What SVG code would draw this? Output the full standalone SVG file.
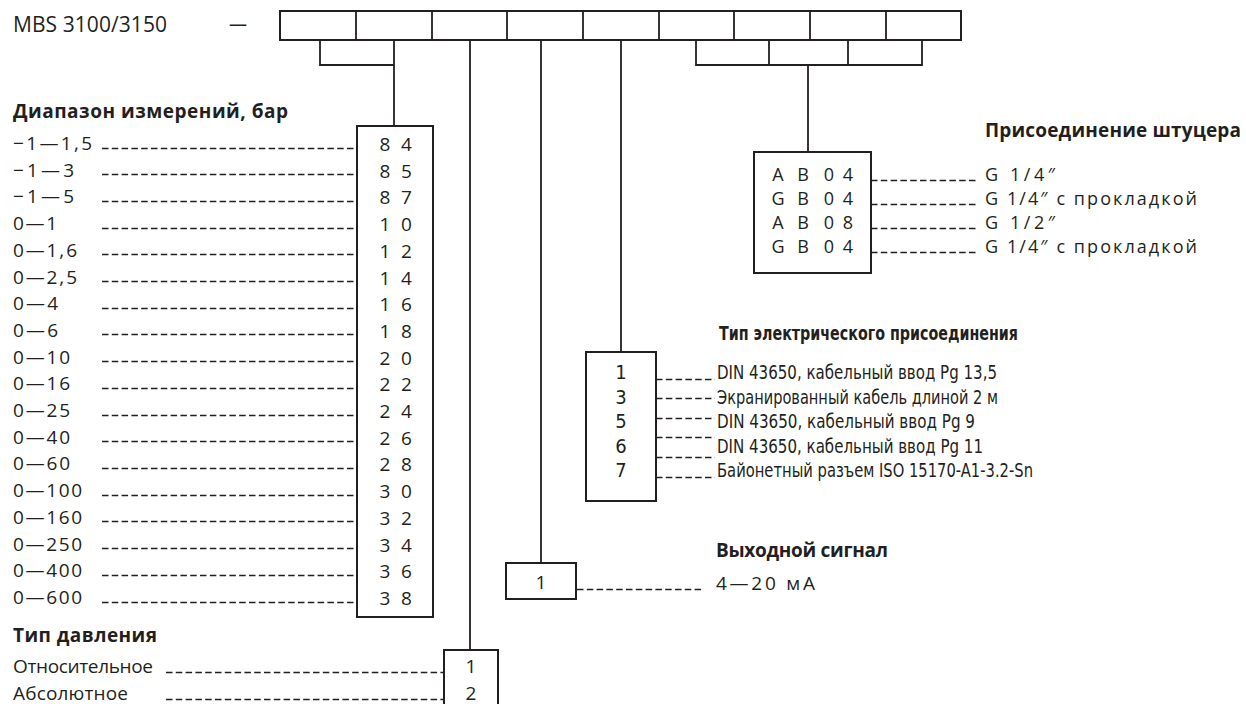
<svg xmlns="http://www.w3.org/2000/svg" width="1246" height="704" viewBox="0 0 1246 704">
<style>
.ln{stroke:#231f20;stroke-width:1.8;fill:none}
.box{fill:#fff;stroke:#231f20;stroke-width:2}
.dash{stroke:#231f20;stroke-width:1.3;stroke-dasharray:6.5 3.3;fill:none}
.t{font-family:"Open Sans","Liberation Sans",sans-serif;font-size:19px;fill:#231f20}
.f{font-size:18px}
.b{font-weight:bold}
.n{font-family:"Liberation Sans Narrow","DejaVu Sans Condensed","Liberation Sans",sans-serif;font-size:20px}
.c{text-anchor:middle}
</style>
<rect width="1246" height="704" fill="#fff"/>
<g id="title">
<text class="t" x="13" y="32" style="font-size:21px" textLength="154">MBS 3100/3150</text>
<text class="t" x="229" y="31" style="font-size:21px" textLength="18" lengthAdjust="spacingAndGlyphs">—</text>
</g>
<g id="code-cells">
<rect class="box" x="280" y="11" width="681" height="29"/>
<path class="ln" d="M356 11V40M432 11V40M507 11V40M583 11V40M659 11V40M734 11V40M810 11V40M886 11V40"/>
</g>
<g id="connectors">
<path class="ln" d="M320 40V65H394V40M394 65V126"/>
<path class="ln" d="M470 40V650M541 40V563M621 40V352"/>
<path class="ln" d="M696 40V65H922V40M769 40V65M848 40V65M808 65V152"/>
</g>
<g id="range">
<text class="t b" x="13" y="118" textLength="275">Диапазон измерений, бар</text>
<rect class="box" x="357" y="126" width="76" height="491"/>
<path class="dash" d="M102 148.5H357M102 174.5H357M102 201.5H357M102 228.5H357M102 254.5H357M102 281.5H357M102 308.5H357M102 334.5H357M102 361.5H357M102 388.5H357M102 415.5H357M102 441.5H357M102 468.5H357M102 495.5H357M102 521.5H357M102 548.5H357M102 575.5H357M102 602.5H357"/>
<g class="t">
<text x="13" y="150" textLength="79">−1—1,5</text>
<text x="13" y="176.7" textLength="61">−1—3</text>
<text x="13" y="203.4" textLength="61">−1—5</text>
<text x="13" y="230.1" textLength="44">0—1</text>
<text x="13" y="256.8" textLength="64">0—1,6</text>
<text x="13" y="283.5" textLength="64">0—2,5</text>
<text x="13" y="310.2" textLength="45">0—4</text>
<text x="13" y="336.9" textLength="45">0—6</text>
<text x="13" y="363.6" textLength="57">0—10</text>
<text x="13" y="390.3" textLength="57">0—16</text>
<text x="13" y="417" textLength="57">0—25</text>
<text x="13" y="443.7" textLength="57">0—40</text>
<text x="13" y="470.4" textLength="57">0—60</text>
<text x="13" y="497.1" textLength="69">0—100</text>
<text x="13" y="523.8" textLength="69">0—160</text>
<text x="13" y="550.5" textLength="69">0—250</text>
<text x="13" y="577.2" textLength="69">0—400</text>
<text x="13" y="603.9" textLength="69">0—600</text>
</g>
<g class="t c">
<text x="385 406.5" y="151">84</text>
<text x="385 406.5" y="177.7">85</text>
<text x="385 406.5" y="204.4">87</text>
<text x="385 406.5" y="231.1">10</text>
<text x="385 406.5" y="257.8">12</text>
<text x="385 406.5" y="284.5">14</text>
<text x="385 406.5" y="311.2">16</text>
<text x="385 406.5" y="337.9">18</text>
<text x="385 406.5" y="364.6">20</text>
<text x="385 406.5" y="391.3">22</text>
<text x="385 406.5" y="418">24</text>
<text x="385 406.5" y="444.7">26</text>
<text x="385 406.5" y="471.4">28</text>
<text x="385 406.5" y="498.1">30</text>
<text x="385 406.5" y="524.8">32</text>
<text x="385 406.5" y="551.5">34</text>
<text x="385 406.5" y="578.2">36</text>
<text x="385 406.5" y="604.9">38</text>
</g>
</g>
<g id="pressure-type">
<text class="t b" x="13" y="642" textLength="144">Тип давления</text>
<rect class="box" x="444" y="650" width="54" height="62"/>
<path class="dash" d="M166 672.5H444M166 699.5H444"/>
<text class="t" x="13" y="673" textLength="140">Относительное</text>
<text class="t" x="13" y="700" textLength="115">Абсолютное</text>
<text class="t c" x="471" y="673">1</text>
<text class="t c" x="471" y="700">2</text>
</g>
<g id="output-signal">
<text class="t b" x="716" y="557" textLength="172">Выходной сигнал</text>
<rect class="box" x="506" y="563" width="70" height="36"/>
<text class="t c" x="541" y="589">1</text>
<path class="dash" d="M577 589.5H703"/>
<text class="t" x="716" y="590" textLength="99">4—20 мА</text>
</g>
<g id="electrical">
<text class="t b n" x="719" y="340" style="font-size:19px" textLength="299" lengthAdjust="spacingAndGlyphs">Тип электрического присоединения</text>
<rect class="box" x="586" y="352" width="70" height="149"/>
<path class="dash" d="M656 379.5H715M656 398.5H715M656 418.5H715M656 437.5H715M656 457.5H715M656 477.5H715"/>
<g class="t n c">
<text x="621" y="379">1</text>
<text x="621" y="403.5">3</text>
<text x="621" y="428">5</text>
<text x="621" y="452.5">6</text>
<text x="621" y="477">7</text>
</g>
<g class="t n">
<text x="717" y="379" textLength="280" lengthAdjust="spacingAndGlyphs">DIN 43650, кабельный ввод Pg 13,5</text>
<text x="717" y="403.5" textLength="281" lengthAdjust="spacingAndGlyphs">Экранированный кабель длиной 2 м</text>
<text x="717" y="428" textLength="258" lengthAdjust="spacingAndGlyphs">DIN 43650, кабельный ввод Pg 9</text>
<text x="717" y="452.5" textLength="266" lengthAdjust="spacingAndGlyphs">DIN 43650, кабельный ввод Pg 11</text>
<text x="717" y="477" textLength="316" lengthAdjust="spacingAndGlyphs">Байонетный разъем ISO 15170-A1-3.2-Sn</text>
</g>
</g>
<g id="fitting">
<text class="t b" x="985" y="137" textLength="256">Присоединение штуцера</text>
<rect class="box" x="754" y="152" width="117" height="121"/>
<path class="dash" d="M871 180.5H978M871 204.5H978M871 228.5H978M871 252.5H978"/>
<g class="t f c">
<text x="778 803 829 848" y="181">AB04</text>
<text x="778 803 829 848" y="205">GB04</text>
<text x="778 803 829 848" y="229">AB08</text>
<text x="778 803 829 848" y="253">GB04</text>
</g>
<g class="t f">
<text x="985" y="181" textLength="70">G 1/4″</text>
<text x="985" y="205" textLength="212">G 1/4″ с прокладкой</text>
<text x="985" y="229" textLength="70">G 1/2″</text>
<text x="985" y="253" textLength="212">G 1/4″ с прокладкой</text>
</g>
</g>
</svg>
